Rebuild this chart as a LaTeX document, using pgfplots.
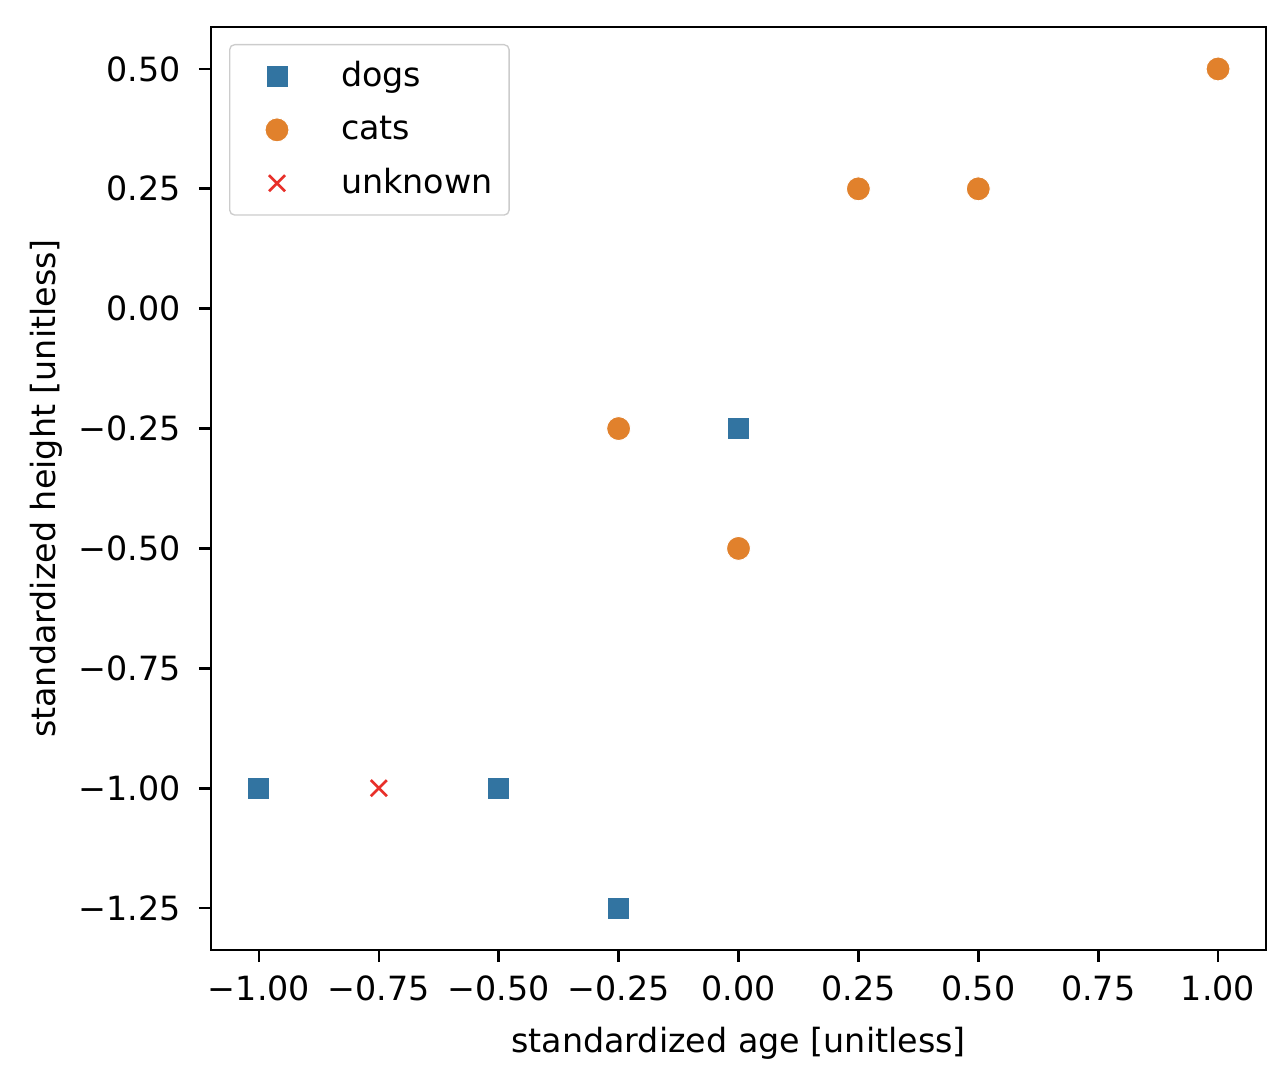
\documentclass[border=0pt]{standalone}
\usepackage{fontspec}
\setmainfont{DejaVu Sans}
\usepackage{pgfplots}
\pgfplotsset{compat=1.18}
\definecolor{cdog}{HTML}{3274A1}
\definecolor{ccat}{HTML}{E1812C}
\definecolor{cunk}{HTML}{E8302A}
\begin{document}
\begin{tikzpicture}
\begin{axis}[
  name=ax,
  scale only axis,
  width=316.5pt, height=276.9pt,
  xmin=-1.1, xmax=1.1, ymin=-1.3375, ymax=0.5875,
  xtick={-1,-0.75,-0.5,-0.25,0,0.25,0.5,0.75,1},
  xticklabels={−1.00,−0.75,−0.50,−0.25,0.00,0.25,0.50,0.75,1.00},
  ytick={-1.25,-1,-0.75,-0.5,-0.25,0,0.25,0.5},
  yticklabels={−1.25,−1.00,−0.75,−0.50,−0.25,0.00,0.25,0.50},
  tick align=outside, tick pos=left,
  major tick length=3.6pt,
  every tick/.style={black, line width=0.8pt},
  tick label style={font=\fontsize{10}{12}\selectfont},
  xticklabel style={yshift=-0.5pt},
  yticklabel style={xshift=-2pt},
  label style={font=\fontsize{10}{12}\selectfont},
  xlabel={standardized age [unitless]},
  ylabel={standardized height [unitless]},
  xlabel style={yshift=-1pt},
  ylabel style={yshift=-2pt},
  axis line style={line width=0.8pt},
  legend cell align=left,
  legend style={at={(0,1)}, anchor=north west, xshift=5.4pt, yshift=-5.1pt,
    draw=black!20, rounded corners=1.5pt, font=\fontsize{10}{12}\selectfont,
    row sep=3.2pt, inner xsep=3pt, inner ysep=3pt,
    /tikz/every even column/.append style={column sep=4pt}},
  legend image code/.code={%
    \path (0pt,0pt) (28pt,0pt);
    \draw[#1] plot coordinates {(11pt,0pt)};},
]
\addplot[only marks, mark=square*, mark size=3.3pt, color=cdog, mark options={draw=white, line width=0.3pt, fill=cdog}]
  coordinates {(-1,-1) (-0.5,-1) (-0.25,-1.25) (0,-0.25)};
\addlegendentry{dogs}
\addplot[only marks, mark=*, mark size=3.6pt, color=ccat, mark options={draw=white, line width=0.3pt, fill=ccat}]
  coordinates {(-0.25,-0.25) (0,-0.5) (0.25,0.25) (0.5,0.25) (1,0.5)};
\addlegendentry{cats}
\addplot[only marks, mark=x, mark size=3.4pt, color=cunk, mark options={line width=0.8pt}]
  coordinates {(-0.75,-1)};
\addlegendentry{unknown}
\end{axis}
\path ([xshift=4.8pt,yshift=8.1pt]ax.north east);
\path ([xshift=-63.3pt,yshift=-38.4pt]ax.south west);
\end{tikzpicture}
\end{document}
